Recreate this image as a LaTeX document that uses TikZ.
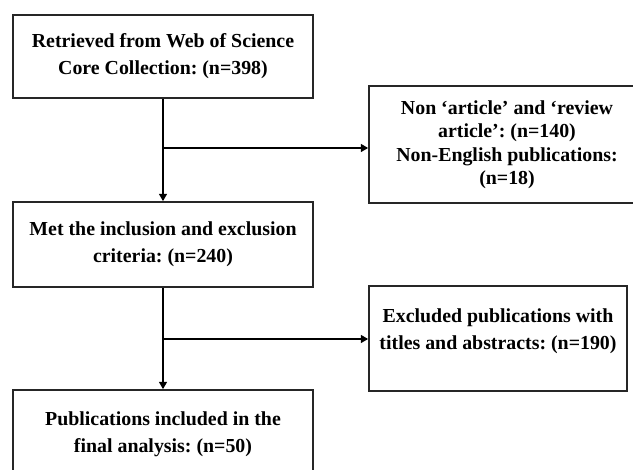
\documentclass[tikz,border=0pt]{standalone}
\usepackage{fontspec}
\setmainfont{Liberation Serif}
\frenchspacing
\usetikzlibrary{arrows.meta}
\begin{document}
\begin{tikzpicture}[x=0.75pt,y=-0.75pt,
    box/.style={draw=black!85,line width=1.3pt,align=center,inner sep=0pt,
      font=\bfseries\fontsize{14.9}{20.25}\selectfont},
    arr/.style={line width=1.1pt,-{Triangle[length=5.5pt,width=6pt]}}]
          \clip (0,0) rectangle (633,470);
          \node[box,minimum width=225pt,minimum height=62.25pt] (retr) at (163,56.5) {Retrieved from Web of Science\\Core Collection: (n=398)};
          \node[box,minimum width=225pt,minimum height=63.75pt] (met) at (163,244.5) {Met the inclusion and exclusion\\criteria: (n=240)};
          \node[box,minimum width=225pt,minimum height=66pt] (final) at (163,434) {Publications included in the\\final analysis: (n=50)};
          \node[box,minimum width=207pt,minimum height=87.75pt,
            font=\bfseries\fontsize{14.9}{17.6}\selectfont] (excl1) at (507,144.5) {Non `article' and `review\\article': (n=140)\\Non-English publications:\\(n=18)};
          \node[box,minimum width=193.5pt,minimum height=78.75pt] (excl2) at (498,338.5) {Excluded publications with\\titles and abstracts: (n=190)\\[-6pt]~};
          \coordinate (b1) at (retr.south |- 0,148);
          \coordinate (b2) at (met.south |- 0,339);
          \draw[arr] (retr) -- (met);
          \draw[arr] (met) -- (final);
          \draw[arr] (b1) -- (b1 -| excl1.west);
          \draw[arr] (b2) -- (b2 -| excl2.west);
\end{tikzpicture}
\end{document}
